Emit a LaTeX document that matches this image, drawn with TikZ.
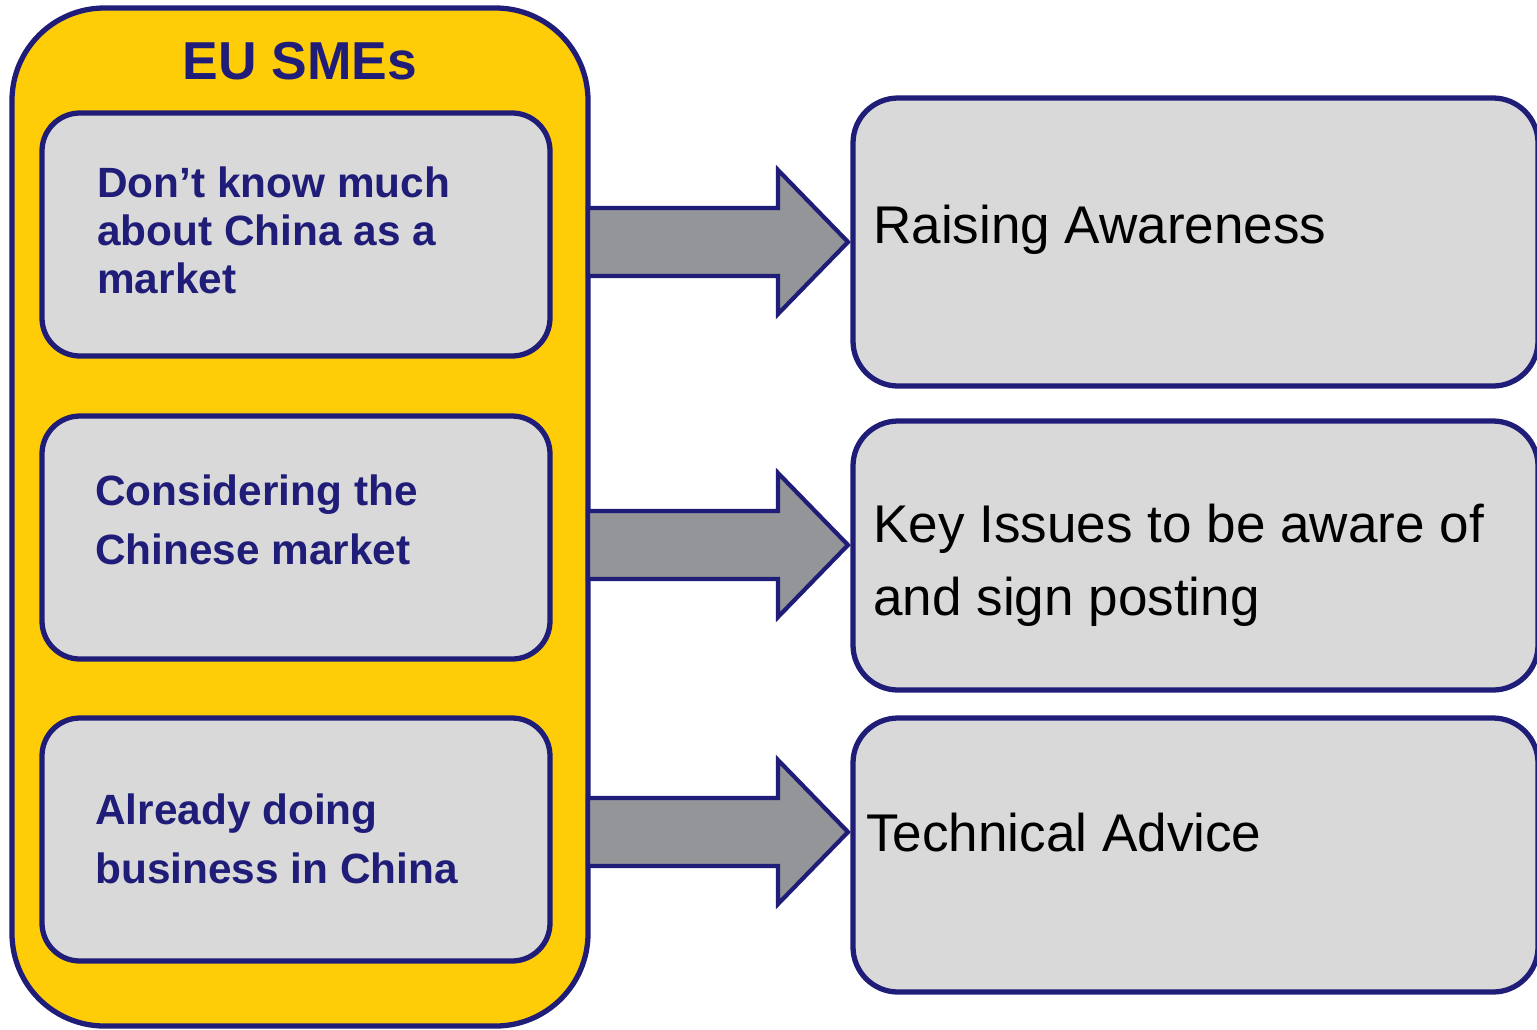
\documentclass[tikz,border=0pt]{standalone}
\usepackage{fontspec}
\setmainfont{Liberation Sans}
\usetikzlibrary{fit}
\definecolor{navy}{RGB}{31,29,120}
\definecolor{smeyellow}{RGB}{255,204,8}
\definecolor{boxgray}{RGB}{217,217,217}
\definecolor{arrowgray}{RGB}{147,149,152}
\tikzset{
  outerbox/.style={draw=navy, fill=smeyellow, line width=3pt, inner sep=0pt, rounded corners=1.85cm},
  leftbox/.style={draw=navy, fill=boxgray, line width=3pt, inner sep=0pt, rounded corners=0.76cm},
  rightbox/.style={draw=navy, fill=boxgray, line width=3pt, inner sep=0pt, rounded corners=0.9cm},
  blockarrow/.style={draw=navy, fill=arrowgray, line width=2.4pt, line join=miter},
  titletxt/.style={inner sep=0pt, text=navy, font=\fontsize{30.4pt}{34pt}\selectfont\bfseries},
  lefttxt/.style={inner sep=0pt, anchor=base west, text=navy, font=\fontsize{24.1pt}{28pt}\selectfont\bfseries},
  righttxt/.style={inner sep=0pt, anchor=base west, text=black, font=\fontsize{30.2pt}{34pt}\selectfont}
}
\begin{document}
\begin{tikzpicture}[x=0.02cm,y=-0.02cm]
\useasboundingbox (0,0) rectangle (1537,1029);
\clip (0,0) rectangle (1537,1029);
% left container
\node[outerbox, fit={(12,8) (588,1026)}] (sme) {};
\node[titletxt, anchor=base] (title) at (300,79) {EU SMEs};
\node[leftbox, fit={(42,113) (550,356)}] (l1) {};
\node[leftbox, fit={(42,416) (550,659)}] (l2) {};
\node[leftbox, fit={(42,718) (550,961)}] (l3) {};
% right boxes
\node[rightbox, fit={(853,98) (1538,386)}] (r1) {};
\node[rightbox, fit={(853,421) (1538,690)}] (r2) {};
\node[rightbox, fit={(853,718) (1538,992)}] (r3) {};
% left texts
\node[lefttxt] (l1a) at (97,197) {Don’t know much};
\node[lefttxt] (l1b) at (97,245) {about China as a};
\node[lefttxt] (l1c) at (97,293) {market};
\node[lefttxt] (l2a) at (95,505) {Considering the};
\node[lefttxt] (l2b) at (95,564) {Chinese market};
\node[lefttxt] (l3a) at (95,824) {Already doing};
\node[lefttxt] (l3b) at (95,883) {business in China};
% right texts
\node[righttxt] (r1a) at (873,243) {Raising Awareness};
\node[righttxt] (r2a) at (873,542) {Key Issues to be aware of};
\node[righttxt] (r2b) at (873,615) {and sign posting};
\node[righttxt] (r3a) at (866,851) {Technical Advice};
% block arrows
\foreach \y in {242,545,832}{
  \draw[blockarrow] (588,{\y-34}) -- (778,{\y-34}) -- (778,{\y-72}) -- (848,\y)
    -- (778,{\y+72}) -- (778,{\y+34}) -- (588,{\y+34}) -- cycle;
}
\end{tikzpicture}
\end{document}
